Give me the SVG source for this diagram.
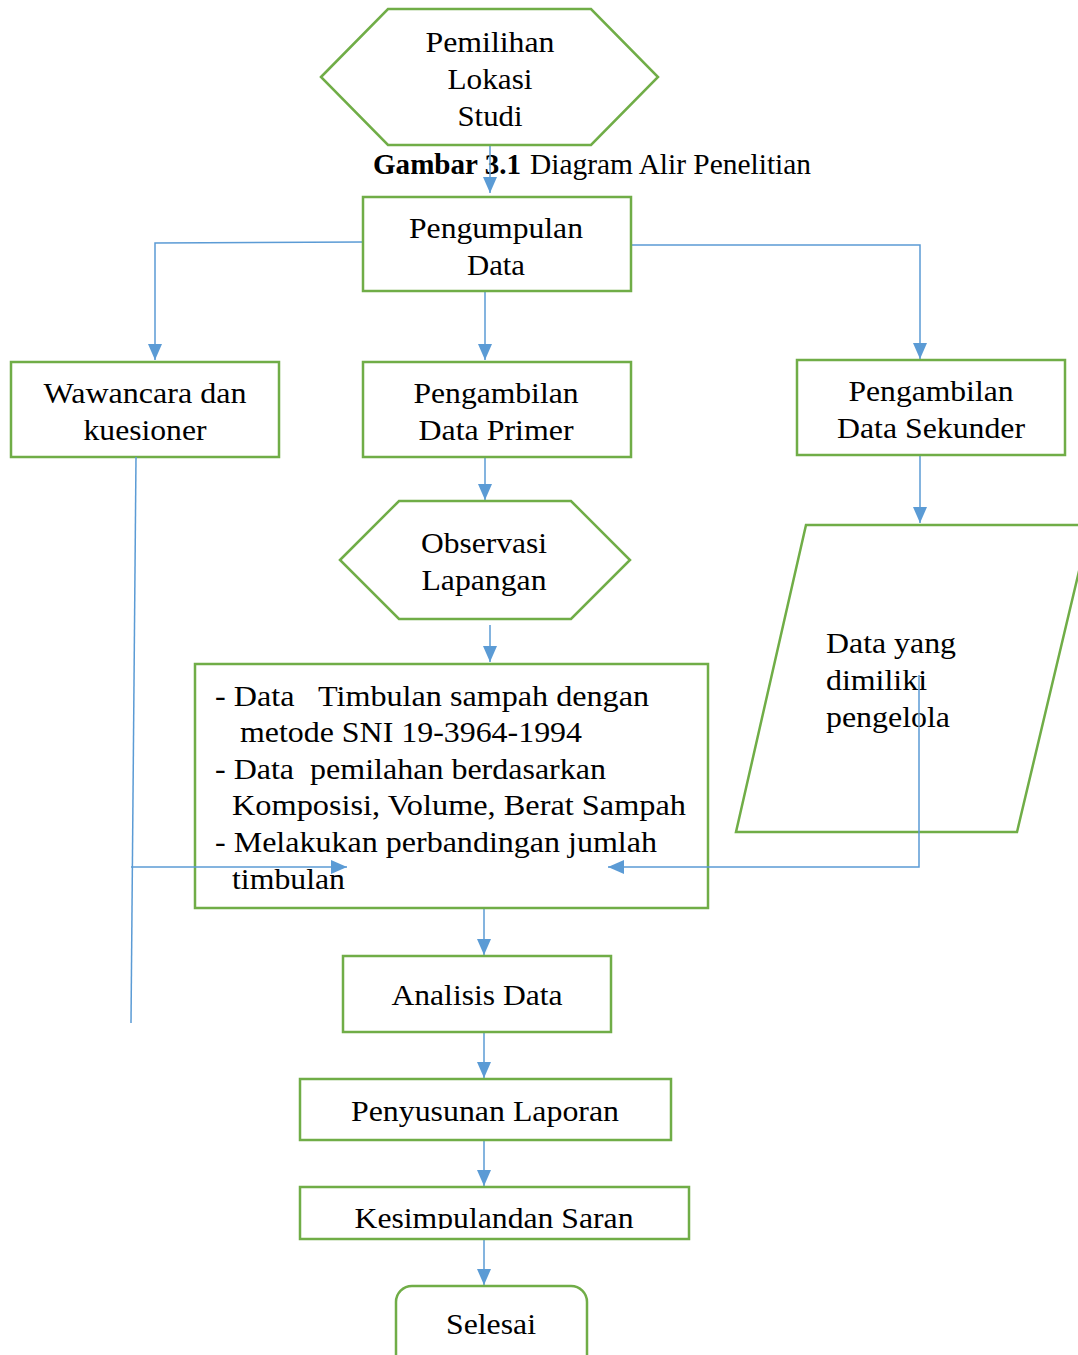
<svg xmlns="http://www.w3.org/2000/svg" width="1078" height="1355" viewBox="0 0 1078 1355">
<style>
.n{fill:#fff;stroke:#70AD47;stroke-width:2.5}
.c{fill:none;stroke:#5B9BD5;stroke-width:1.5}
.t{font-family:"Liberation Serif","Times New Roman",serif;font-size:30px;fill:#000}
.m{text-anchor:middle}
</style>
<defs>
<marker id="ah" markerUnits="userSpaceOnUse" markerWidth="16" markerHeight="16" viewBox="0 0 16 16" refX="16" refY="8" orient="auto">
<path d="M0,1 L16,8 L0,15 Z" fill="#5B9BD5"/>
</marker>
<clipPath id="kclip"><rect x="300" y="1187" width="389" height="42"/></clipPath>
</defs>
<rect width="1078" height="1355" fill="#fff"/>

<g id="caption">
<text class="t" x="373" y="174" font-size="27" font-weight="bold" textLength="148" lengthAdjust="spacingAndGlyphs">Gambar 3.1</text>
<text class="t" x="530" y="174" font-size="27" textLength="281" lengthAdjust="spacingAndGlyphs">Diagram Alir Penelitian</text>
</g>

<g id="connectors">
<line class="c" x1="490" y1="145" x2="490" y2="193" marker-end="url(#ah)"/>
<polyline class="c" points="363,242 155,243 155,360" marker-end="url(#ah)"/>
<line class="c" x1="485" y1="291" x2="485" y2="360" marker-end="url(#ah)"/>
<polyline class="c" points="631,245 920,245 920,359" marker-end="url(#ah)"/>
<line class="c" x1="485" y1="457" x2="485" y2="500" marker-end="url(#ah)"/>
<line class="c" x1="920" y1="455" x2="920" y2="523" marker-end="url(#ah)"/>
<line class="c" x1="490" y1="625" x2="490" y2="662" marker-end="url(#ah)"/>
<line class="c" x1="484" y1="908" x2="484" y2="955" marker-end="url(#ah)"/>
<line class="c" x1="484" y1="1032" x2="484" y2="1078" marker-end="url(#ah)"/>
<line class="c" x1="484" y1="1140" x2="484" y2="1186" marker-end="url(#ah)"/>
<line class="c" x1="484" y1="1239" x2="484" y2="1285" marker-end="url(#ah)"/>
</g>

<g id="pemilihan">
<polygon class="n" points="321,77 388,9 591,9 658,77 591,145 388,145"/>
<text class="t m" x="490" y="52" textLength="129" lengthAdjust="spacingAndGlyphs">Pemilihan</text>
<text class="t m" x="490" y="89" textLength="85" lengthAdjust="spacingAndGlyphs">Lokasi</text>
<text class="t m" x="490" y="126" textLength="65" lengthAdjust="spacingAndGlyphs">Studi</text>
</g>

<g id="pengumpulan">
<rect class="n" x="363" y="197" width="268" height="94"/>
<text class="t m" x="496" y="238" textLength="174" lengthAdjust="spacingAndGlyphs">Pengumpulan</text>
<text class="t m" x="496" y="275" textLength="58" lengthAdjust="spacingAndGlyphs">Data</text>
</g>

<g id="wawancara">
<rect class="n" x="11" y="362" width="268" height="95"/>
<text class="t m" x="145" y="403" textLength="203" lengthAdjust="spacingAndGlyphs">Wawancara dan</text>
<text class="t m" x="145" y="440" textLength="123" lengthAdjust="spacingAndGlyphs">kuesioner</text>
</g>

<g id="primer">
<rect class="n" x="363" y="362" width="268" height="95"/>
<text class="t m" x="496" y="403" textLength="165" lengthAdjust="spacingAndGlyphs">Pengambilan</text>
<text class="t m" x="496" y="440" textLength="155" lengthAdjust="spacingAndGlyphs">Data Primer</text>
</g>

<g id="sekunder">
<rect class="n" x="797" y="360" width="268" height="95"/>
<text class="t m" x="931" y="401" textLength="165" lengthAdjust="spacingAndGlyphs">Pengambilan</text>
<text class="t m" x="931" y="438" textLength="188" lengthAdjust="spacingAndGlyphs">Data Sekunder</text>
</g>

<g id="observasi">
<polygon class="n" points="340,560 399,501 571,501 630,560 571,619 399,619"/>
<text class="t m" x="484" y="553" textLength="126" lengthAdjust="spacingAndGlyphs">Observasi</text>
<text class="t m" x="484" y="590" textLength="125" lengthAdjust="spacingAndGlyphs">Lapangan</text>
</g>

<g id="data-dimiliki">
<polygon class="n" points="806,525 1090,525 1017,832 736,832"/>
<text class="t" x="826" y="653" textLength="130" lengthAdjust="spacingAndGlyphs">Data yang</text>
<text class="t" x="826" y="690" textLength="101" lengthAdjust="spacingAndGlyphs">dimiliki</text>
<text class="t" x="826" y="727" textLength="124" lengthAdjust="spacingAndGlyphs">pengelola</text>
</g>

<g id="data-detail">
<rect class="n" x="195" y="664" width="513" height="244"/>
<text class="t" x="215" y="706" textLength="434" lengthAdjust="spacingAndGlyphs" xml:space="preserve">- Data   Timbulan sampah dengan</text>
<text class="t" x="240" y="742" textLength="342" lengthAdjust="spacingAndGlyphs">metode SNI 19-3964-1994</text>
<text class="t" x="215" y="779" textLength="391" lengthAdjust="spacingAndGlyphs" xml:space="preserve">- Data  pemilahan berdasarkan</text>
<text class="t" x="232" y="815" textLength="454" lengthAdjust="spacingAndGlyphs">Komposisi, Volume, Berat Sampah</text>
<text class="t" x="215" y="852" textLength="442" lengthAdjust="spacingAndGlyphs">- Melakukan perbandingan jumlah</text>
<text class="t" x="232" y="889" textLength="113" lengthAdjust="spacingAndGlyphs">timbulan</text>
</g>

<g id="connectors-merge">
<line class="c" x1="136" y1="457" x2="131" y2="1023"/>
<line class="c" x1="131" y1="867" x2="347" y2="867" marker-end="url(#ah)"/>
<polyline class="c" points="919,675 919,867 608,867" marker-end="url(#ah)"/>
</g>

<g id="analisis">
<rect class="n" x="343" y="956" width="268" height="76"/>
<text class="t m" x="477" y="1005" textLength="171" lengthAdjust="spacingAndGlyphs">Analisis Data</text>
</g>

<g id="penyusunan">
<rect class="n" x="300" y="1079" width="371" height="61"/>
<text class="t m" x="485" y="1121" textLength="268" lengthAdjust="spacingAndGlyphs">Penyusunan Laporan</text>
</g>

<g id="kesimpulan">
<rect class="n" x="300" y="1187" width="389" height="52"/>
<text class="t m" x="494" y="1228" textLength="279" lengthAdjust="spacingAndGlyphs" clip-path="url(#kclip)">Kesimpulandan Saran</text>
</g>

<g id="selesai">
<rect class="n" x="396" y="1286" width="191" height="85" rx="16"/>
<text class="t m" x="491" y="1334" textLength="90" lengthAdjust="spacingAndGlyphs">Selesai</text>
</g>
</svg>
